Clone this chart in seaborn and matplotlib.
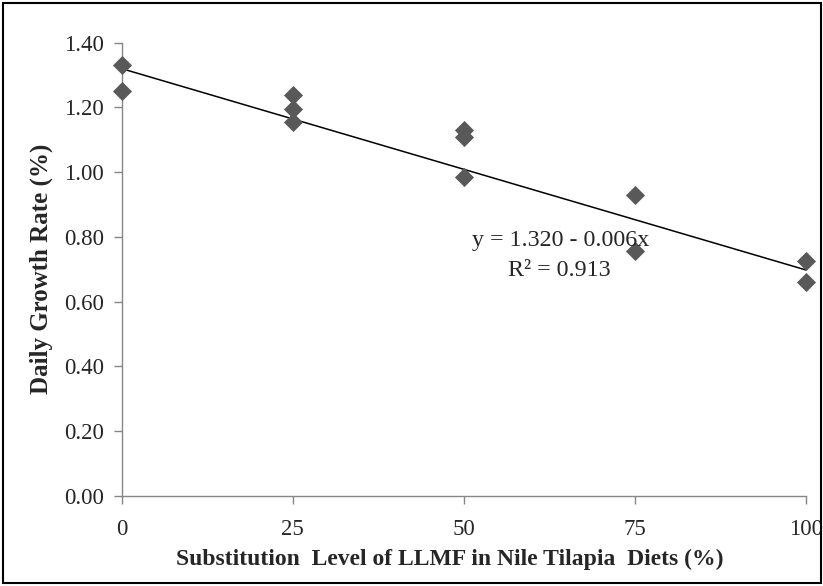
import numpy as np
import pandas as pd
import matplotlib
matplotlib.use('Agg')
import matplotlib.pyplot as plt
import seaborn as sns

# values
level = [0, 0, 25, 25, 25, 50, 50, 50, 75, 75, 100, 100]
growth = [1.33, 1.25, 1.24, 1.195, 1.155, 1.13, 1.11, 0.985, 0.93, 0.755, 0.725, 0.66]
trend_x = [0, 100]
trend_y = [1.320, 0.698]
x_ticks = [0, 25, 50, 75, 100]
y_ticks = [0.0, 0.2, 0.4, 0.6, 0.8, 1.0, 1.2, 1.4]
equation = 'y = 1.320 - 0.006x'
r_squared = 'R² = 0.913'

df = pd.DataFrame({'level': level, 'growth': growth})
trend = pd.DataFrame({'level': trend_x, 'growth': trend_y})

sns.set_style('white')
plt.rcParams['font.family'] = ['Liberation Serif', 'DejaVu Serif']

fig = plt.figure(figsize=(8.23, 5.86), dpi=100)
ax = fig.add_axes([0.148, 0.154, 0.831, 0.773])

grey = '#868686'
sns.lineplot(x='level', y='growth', data=trend, ax=ax, color='black', lw=1.1, zorder=2)
sns.scatterplot(x='level', y='growth', data=df, ax=ax, marker='D', color='#595959',
                s=95, linewidth=0, zorder=3, clip_on=False)

ax.set_xlim(0, 100)
ax.set_ylim(0, 1.4)
ax.set_xticks(x_ticks)
ax.set_xticklabels([str(t) for t in x_ticks])
ax.set_yticks(y_ticks)
ax.set_yticklabels(['%.2f' % t for t in y_ticks])
ax.tick_params(axis='both', which='major', direction='out', length=6, width=1,
               color=grey, labelsize=16.5, bottom=True, left=True)
ax.tick_params(axis='y', pad=7)
ax.tick_params(axis='x', pad=11)

for side in ['top', 'right']:
    ax.spines[side].set_visible(False)
for side in ['left', 'bottom']:
    ax.spines[side].set_color(grey)
    ax.spines[side].set_linewidth(1)

ax.set_xlabel('Substitution  Level of LLMF in Nile Tilapia  Diets (%)',
              fontsize=17, fontweight='bold')
ax.set_ylabel('Daily Growth Rate (%)', fontsize=18, fontweight='bold')
ax.xaxis.set_label_coords(0.48, -0.118)
ax.yaxis.set_label_coords(-0.101, 0.5)

ax.text(64.1, 0.79, equation, fontsize=17.3, ha='center', va='center')
ax.text(64.0, 0.697, r_squared, fontsize=17.3, ha='center', va='center')

# black frame around the whole picture
fig.patches.append(plt.Rectangle((0.004, 0.005), 0.993, 0.99, transform=fig.transFigure,
                                 fill=False, edgecolor='black', lw=1.5))

fig.savefig('out.png', dpi=100)
